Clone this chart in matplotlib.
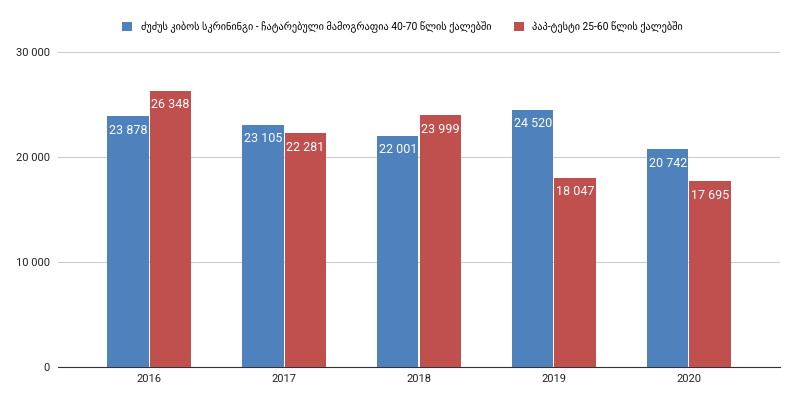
import numpy as np
import matplotlib
matplotlib.use('Agg')
import matplotlib.pyplot as plt

plt.rcParams['font.family'] = ['Roboto', 'DejaVu Sans']

years = ['2016', '2017', '2018', '2019', '2020']
mammography = [23878, 23105, 22001, 24520, 20742]
pap_test = [26348, 22281, 23999, 18047, 17695]
series_names = ['ძუძუს კიბოს სკრინინგი - ჩატარებული მამოგრაფია 40-70 წლის ქალებში',
                'პაპ-ტესტი 25-60 წლის ქალებში']
colors = ['#4f81bd', '#c0504d']


def fmt(v):
    return '{:,}'.format(v).replace(',', ' ')


fig = plt.figure(figsize=(8, 4.05), dpi=100)
ax = fig.add_axes([0.0725, 0.094, 0.9025, 0.777])

x = np.arange(len(years))
width = 0.305
gap = 0.008
for i, (vals, col, name) in enumerate(zip([mammography, pap_test], colors, series_names)):
    pos = x + (i - 0.5) * (width + gap)
    bars = ax.bar(pos, vals, width, color=col, label=name, zorder=3)
    for b, v in zip(bars, vals):
        ax.text(b.get_x() + b.get_width() / 2, v - 700, fmt(v), ha='center', va='top',
                color='white', fontsize=9, zorder=4)

ax.set_xlim(-0.675, 4.675)
ax.set_ylim(0, 30000)
ax.set_yticks([0, 10000, 20000, 30000])
ax.set_yticklabels([fmt(v) for v in [0, 10000, 20000, 30000]])
ax.set_xticks(x)
ax.set_xticklabels(years)
ax.grid(axis='y', color='#cccccc', linewidth=0.8, zorder=0)
for s in ['top', 'right', 'left']:
    ax.spines[s].set_visible(False)
ax.spines['bottom'].set_color('#333333')
ax.tick_params(axis='both', length=0, labelsize=8, colors='#222222')
ax.tick_params(axis='y', pad=6)
ax.tick_params(axis='x', pad=5)

fig.legend(loc='upper center', bbox_to_anchor=(0.503, 0.97), ncol=2, frameon=False,
           fontsize=7.4, handlelength=1.0, handleheight=1.0, columnspacing=2.2,
           handletextpad=0.8)

fig.savefig('out.png', dpi=100)
